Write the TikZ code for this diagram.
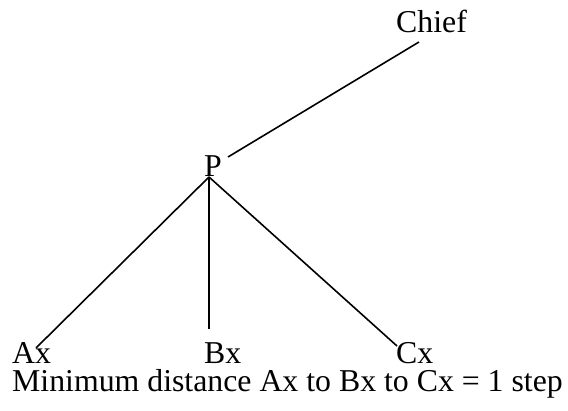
\documentclass[tikz,border=0pt]{standalone}
\usepackage{fontspec}
\setmainfont{Liberation Serif}
\begin{document}
\begin{tikzpicture}[x=1pt,y=-1pt,every node/.style={inner sep=0pt,font=\fontsize{31.8}{36}\selectfont},link/.style={line width=1.6pt}]
\useasboundingbox (0,0) rectangle (568,411);
% the chain: chief on top, P below, three units at the bottom
\node[anchor=base west] (chief) at (396,33) {Chief};
\node[anchor=base west] (p) at (204,177) {P};
\node[anchor=base west] (ax) at (12,364) {Ax};
\node[anchor=base west] (bx) at (204,364) {Bx};
\node[anchor=base west] (cx) at (396,364) {Cx};
\node[anchor=base west] (note) at (12,392) {Minimum distance Ax to Bx to Cx = 1 step};
% where the lines stop
\coordinate (chief-in) at (419,42);
\coordinate (p-up) at (228,157);
\coordinate (p-down) at (209,177);
\coordinate (ax-in) at (36,348);
\coordinate (bx-in) at (209,329);
\coordinate (cx-in) at (397,346);
\draw[link] (p-up) -- (chief-in);
\foreach \k in {ax,bx,cx}{\draw[link] (p-down) -- (\k-in);}
\end{tikzpicture}
\end{document}
